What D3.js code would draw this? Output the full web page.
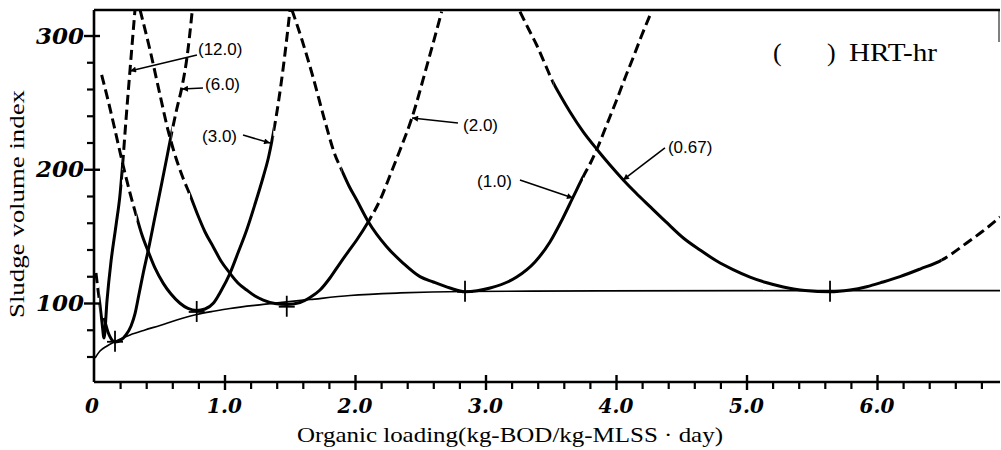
<!DOCTYPE html>
<html>
<head>
<meta charset="utf-8">
<script src="https://cdn.jsdelivr.net/npm/d3@7"></script>
<style>
  body { margin: 0; background: #fff; }
  svg { display: block; }
  .num { font-family: "DejaVu Serif", serif; font-weight: bold; font-style: italic; }
  .serif { font-family: "Liberation Serif", "Times New Roman", serif; }
  .lab { font-family: "Liberation Sans", Arial, sans-serif; }
</style>
</head>
<body>
<div id="chart"></div>
<script>
// SVI vs organic loading, one curve per HRT (hours)
var hrt12X = [0.015, 0.031, 0.046, 0.061, 0.077, 0.100, 0.130, 0.169, 0.199, 0.222, 0.245, 0.276, 0.314];
var hrt12Y = [122.4, 109.7, 98.5, 85.8, 73.8, 102.2, 130.7, 158.3, 180.7, 206.9, 236.8, 274.2, 319.1];

var hrt6X = [0.077, 0.107, 0.130, 0.161, 0.207, 0.245, 0.284, 0.314, 0.345, 0.379, 0.416, 0.467, 0.521, 0.559, 0.595, 0.636, 0.674, 0.713, 0.751];
var hrt6Y = [88.8, 78.3, 73.5, 70.8, 72.3, 76.1, 82.8, 91.8, 106.7, 123.2, 139.6, 164.3, 190.5, 209.2, 227.1, 245.8, 261.5, 283.9, 316.8];

var hrt3X = [0.059, 0.107, 0.161, 0.215, 0.276, 0.327, 0.368, 0.416, 0.467, 0.531, 0.590, 0.659, 0.720, 0.787, 0.851, 0.914, 0.973, 1.042, 1.103, 1.170, 1.234, 1.297, 1.336, 1.374, 1.410, 1.451, 1.502];
var hrt3Y = [270.5, 251.8, 229.3, 206.2, 182.2, 164.3, 150.8, 138.4, 126.2, 114.7, 106.7, 99.8, 95.9, 94.4, 95.5, 99.8, 109.0, 122.2, 137.4, 154.6, 174.0, 194.4, 208.4, 226.9, 248.0, 276.7, 319.1];

var hrt2X = [0.353, 0.429, 0.506, 0.567, 0.628, 0.682, 0.736, 0.789, 0.851, 0.914, 0.973, 1.042, 1.103, 1.170, 1.234, 1.297, 1.387, 1.477, 1.579, 1.655, 1.732, 1.808, 1.885, 1.946, 2.013, 2.102, 2.192, 2.268, 2.345, 2.435, 2.549, 2.664];
var hrt2Y = [319.1, 289.2, 255.5, 229.3, 208.4, 193.5, 180.7, 167.3, 153.1, 141.9, 131.4, 122.2, 115.0, 109.7, 105.2, 102.2, 99.6, 98.9, 100.4, 104.1, 109.7, 118.7, 129.7, 138.1, 147.1, 160.8, 177.0, 195.3, 214.4, 238.1, 276.7, 317.8];

var hrt1X = [1.517, 1.594, 1.678, 1.763, 1.847, 1.898, 1.954, 2.013, 2.102, 2.243, 2.370, 2.498, 2.600, 2.728, 2.843, 3.035, 3.239, 3.379, 3.494, 3.586, 3.673, 3.747, 3.808, 3.864, 3.931, 4.005, 4.069, 4.133, 4.195, 4.261];
var hrt1Y = [319.1, 296.6, 269.0, 238.3, 210.7, 199.4, 187.5, 177.0, 160.8, 142.1, 129.7, 119.7, 115.7, 111.2, 108.4, 111.2, 119.4, 130.7, 145.6, 162.1, 179.5, 194.2, 205.4, 217.4, 233.8, 251.8, 268.2, 283.9, 299.6, 315.3];

var hrt067X = [3.264, 3.326, 3.392, 3.456, 3.520, 3.571, 3.648, 3.749, 3.864, 3.954, 4.056, 4.153, 4.261, 4.383, 4.516, 4.644, 4.772, 4.897, 5.027, 5.149, 5.282, 5.448, 5.640, 5.793, 5.921, 6.046, 6.176, 6.330, 6.496, 6.559, 6.687, 6.812, 6.943];
var hrt067Y = [317.8, 305.6, 292.9, 278.7, 264.5, 255.5, 242.8, 227.9, 213.7, 203.2, 192.0, 182.2, 172.0, 160.6, 148.6, 139.6, 131.4, 125.0, 119.4, 115.3, 112.0, 109.3, 108.4, 109.7, 112.2, 115.7, 119.7, 125.4, 132.1, 135.9, 144.9, 153.8, 164.3];

// part of each curve drawn solid (loading range), rest dashed
var solidFrom = [0.040, 0.000, 0.327, 0.736, 1.898, 3.520];
var solidTo = [0.215, 0.595, 1.374, 2.102, 3.747, 6.496];

// lower envelope through the minima
var envX = [0.008, 0.046, 0.100, 0.161, 0.276, 0.391, 0.506, 0.634, 0.787, 0.927, 1.042, 1.297, 1.655, 1.962, 2.345, 2.843, 3.877, 6.943];
var envY = [58.9, 64.1, 67.9, 71.2, 76.1, 79.8, 83.2, 87.3, 91.4, 94.0, 95.9, 98.9, 102.6, 105.6, 107.5, 108.6, 109.0, 109.3];

// "+" marks at the minima
var minX = [0.161, 0.787, 1.477, 2.843, 5.640];
var minY = [71.0, 93.3, 97.2, 108.4, 108.4];

var hrtLabels = ["(12.0)", "(6.0)", "(3.0)", "(2.0)", "(1.0)", "(0.67)"];
var xMajor = [1, 2, 3, 4, 5, 6];
var xMajorLabels = ["1.0", "2.0", "3.0", "4.0", "5.0", "6.0"];
var yMajor = [100, 200, 300];

var width = 1001, height = 450;

var svg = d3.select("#chart")
  .append("svg")
    .attr("width", width)
    .attr("height", height);

var x = d3.scaleLinear().domain([0, 6.9425]).range([94, 1000]);
var y = d3.scaleLinear().domain([40.93, 319.07]).range([382, 10]);

var defs = svg.append("defs");
defs.append("clipPath").attr("id", "plotClip")
  .append("rect")
    .attr("x", x(0)).attr("y", y(319.07))
    .attr("width", x(6.9425) - x(0)).attr("height", y(40.93) - y(319.07));

defs.append("marker")
    .attr("id", "arrow")
    .attr("viewBox", "0 0 10 10")
    .attr("refX", 10).attr("refY", 5)
    .attr("markerUnits", "userSpaceOnUse")
    .attr("markerWidth", 8).attr("markerHeight", 6)
    .attr("orient", "auto")
  .append("path")
    .attr("d", "M0,0 L10,5 L0,10 z")
    .attr("fill", "#000");

var line = d3.line()
  .x(function (d) { return x(d[0]); })
  .y(function (d) { return y(d[1]); })
  .curve(d3.curveMonotoneX);

var plot = svg.append("g").attr("clip-path", "url(#plotClip)");

// envelope
plot.append("path")
  .datum(d3.zip(envX, envY))
  .attr("d", line)
  .attr("fill", "none")
  .attr("stroke", "#000")
  .attr("stroke-width", 1.7);

var curves = [
  d3.zip(hrt12X, hrt12Y),
  d3.zip(hrt6X, hrt6Y),
  d3.zip(hrt3X, hrt3Y),
  d3.zip(hrt2X, hrt2Y),
  d3.zip(hrt1X, hrt1Y),
  d3.zip(hrt067X, hrt067Y)
];

curves.forEach(function (pts, i) {
  var x0 = x(solidFrom[i]), x1 = x(solidTo[i]);

  var sc = defs.append("clipPath").attr("id", "solid" + i);
  sc.append("rect").attr("x", x0).attr("y", 0).attr("width", x1 - x0).attr("height", height);

  var dc = defs.append("clipPath").attr("id", "dash" + i);
  dc.append("rect").attr("x", 0).attr("y", 0).attr("width", x0).attr("height", height);
  dc.append("rect").attr("x", x1).attr("y", 0).attr("width", width - x1).attr("height", height);

  plot.append("path")
    .datum(pts)
    .attr("d", line)
    .attr("clip-path", "url(#dash" + i + ")")
    .attr("fill", "none")
    .attr("stroke", "#000")
    .attr("stroke-width", 3)
    .attr("stroke-dasharray", "10,5");

  plot.append("path")
    .datum(pts)
    .attr("d", line)
    .attr("clip-path", "url(#solid" + i + ")")
    .attr("fill", "none")
    .attr("stroke", "#000")
    .attr("stroke-width", 3);
});

// + marks
var marks = svg.append("g").attr("stroke", "#000").attr("stroke-width", 1.8);
d3.range(minX.length).forEach(function (i) {
  var cx = x(minX[i]), cy = y(minY[i]);
  marks.append("line").attr("x1", cx).attr("x2", cx).attr("y1", cy - 11).attr("y2", cy + 10);
  marks.append("line").attr("x1", cx - 8).attr("x2", cx + 8).attr("y1", cy).attr("y2", cy);
});

// ticks with d3 axes
var xMinor = d3.range(1, 35).map(function (d) { return +(d * 0.2).toFixed(1); })
  .filter(function (d) { return d % 1 !== 0; });
var yMinor = d3.range(60, 320, 20).filter(function (d) { return d % 100 !== 0; });

function styleAxis(g, w) {
  g.select(".domain").remove();
  g.selectAll(".tick line").attr("stroke", "#000").attr("stroke-width", w);
  g.selectAll(".tick text").remove();
}

svg.append("g")
  .attr("transform", "translate(0," + y(40.93) + ")")
  .call(d3.axisBottom(x).tickValues(xMinor).tickSize(7))
  .call(styleAxis, 2.2);
svg.append("g")
  .attr("transform", "translate(0," + y(40.93) + ")")
  .call(d3.axisBottom(x).tickValues(xMajor).tickSize(8))
  .call(styleAxis, 2.4);
svg.append("g")
  .attr("transform", "translate(0," + y(40.93) + ")")
  .call(d3.axisTop(x).tickValues(xMajor).tickSize(7))
  .call(styleAxis, 2.4);

svg.append("g")
  .attr("transform", "translate(" + x(0) + ",0)")
  .call(d3.axisLeft(y).tickValues(yMinor).tickSize(7))
  .call(styleAxis, 2.2);
svg.append("g")
  .attr("transform", "translate(" + x(0) + ",0)")
  .call(d3.axisLeft(y).tickValues(yMajor).tickSize(10))
  .call(styleAxis, 2.4);
svg.append("g")
  .attr("transform", "translate(" + x(0) + ",0)")
  .call(d3.axisRight(y).tickValues(yMajor).tickSize(6))
  .call(styleAxis, 2.4);

// frame: left + bottom axes thick, top border
svg.append("line").attr("x1", x(0)).attr("x2", x(0)).attr("y1", y(319.07)).attr("y2", y(40.93))
  .attr("stroke", "#000").attr("stroke-width", 2.6);
svg.append("line").attr("x1", x(0)).attr("x2", x(6.9425)).attr("y1", y(40.93)).attr("y2", y(40.93))
  .attr("stroke", "#000").attr("stroke-width", 2.6);
svg.append("line").attr("x1", x(0)).attr("x2", x(6.9425)).attr("y1", y(319.07)).attr("y2", y(319.07))
  .attr("stroke", "#000").attr("stroke-width", 2.6);
svg.append("line").attr("x1", x(6.9425) - 1).attr("x2", x(6.9425) - 1).attr("y1", y(319.07)).attr("y2", y(319.07) + 32)
  .attr("stroke", "#000").attr("stroke-width", 1);

// tick labels
svg.append("g").selectAll("text")
  .data(xMajor).enter().append("text")
    .attr("class", "num")
    .attr("x", function (d) { return x(d); })
    .attr("y", 413)
    .attr("text-anchor", "middle")
    .attr("font-size", 20)
    .text(function (d, i) { return xMajorLabels[i]; });
svg.append("text")
  .attr("class", "num")
  .attr("x", x(0) - 2).attr("y", 413)
  .attr("text-anchor", "middle")
  .attr("font-size", 20)
  .text("0");

svg.append("g").selectAll("text")
  .data(yMajor).enter().append("text")
    .attr("class", "num")
    .attr("x", 84)
    .attr("y", function (d) { return y(d) + 8; })
    .attr("text-anchor", "end")
    .attr("font-size", 23)
    .text(function (d) { return d; });

// axis titles
svg.append("text")
  .attr("class", "serif")
  .attr("transform", "translate(24,204) rotate(-90)")
  .attr("text-anchor", "middle")
  .attr("font-size", 21)
  .attr("textLength", 228)
  .attr("lengthAdjust", "spacingAndGlyphs")
  .text("Sludge volume index");

svg.append("text")
  .attr("class", "serif")
  .attr("x", 297).attr("y", 442)
  .attr("font-size", 21)
  .attr("textLength", 426)
  .attr("lengthAdjust", "spacingAndGlyphs")
  .text("Organic loading(kg-BOD/kg-MLSS \u00b7 day)");

// legend note
var note = svg.append("g").attr("class", "serif").attr("font-size", 26);
note.append("text").attr("x", 773).attr("y", 61).text("(");
note.append("text").attr("x", 827).attr("y", 61).text(")");
note.append("text").attr("x", 849).attr("y", 61)
  .attr("textLength", 88).attr("lengthAdjust", "spacingAndGlyphs").text("HRT-hr");

// curve labels with arrows (data coordinates)
var labelPos = [
  {tx: 0.797, ty: 289.9, fx: 0.789, fy: 285.4, ax: 0.276, ay: 273.5},
  {tx: 0.851, ty: 263.4, fx: 0.835, fy: 260.8, ax: 0.674, ay: 260.0},
  {tx: 0.828, ty: 224.9, fx: 1.142, fy: 225.6, ax: 1.349, ay: 219.6},
  {tx: 2.828, ty: 233.1, fx: 2.789, fy: 234.6, ax: 2.437, ay: 238.3},
  {tx: 2.935, ty: 191.2, fx: 3.264, fy: 192.0, ax: 3.670, ay: 178.5},
  {tx: 4.398, ty: 216.6, fx: 4.375, fy: 215.9, ax: 4.054, ay: 192.0}
];

labelPos.forEach(function (p, i) {
  svg.append("line")
    .attr("x1", x(p.fx)).attr("y1", y(p.fy))
    .attr("x2", x(p.ax)).attr("y2", y(p.ay))
    .attr("stroke", "#000").attr("stroke-width", 1.6)
    .attr("marker-end", "url(#arrow)");
  svg.append("text")
    .attr("class", "lab")
    .attr("x", x(p.tx)).attr("y", y(p.ty) + 6)
    .attr("font-size", 17)
    .text(hrtLabels[i]);
});
</script>
</body>
</html>
